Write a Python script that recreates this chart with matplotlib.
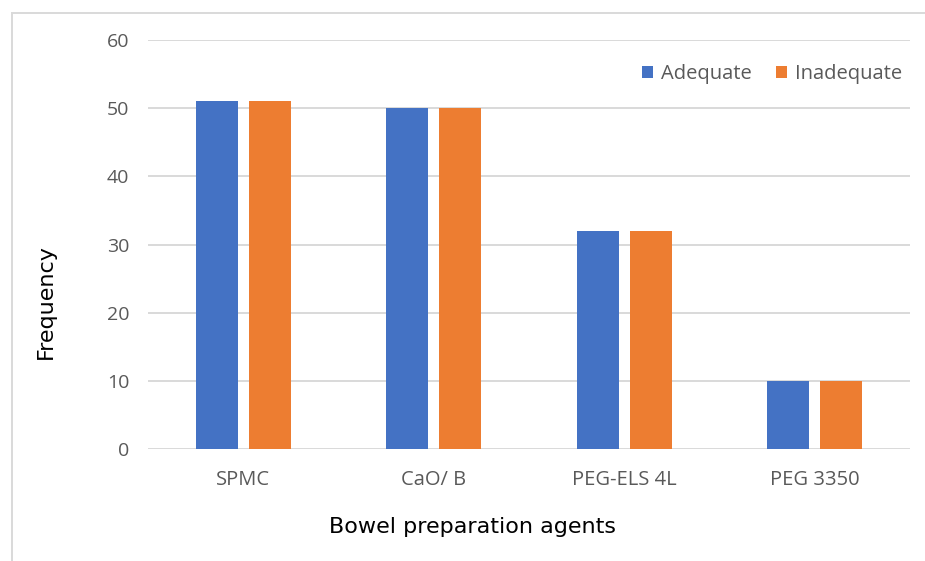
import matplotlib
matplotlib.use("Agg")
import matplotlib.pyplot as plt
import numpy as np
from matplotlib.patches import Rectangle

# Data
agents = ["SPMC", "CaO/ B", "PEG-ELS 4L", "PEG 3350"]
adequate = [51, 50, 32, 10]
inadequate = [51, 50, 32, 10]
series_names = ["Adequate", "Inadequate"]
y_ticks = [0, 10, 20, 30, 40, 50, 60]

BLUE = "#4472C4"
ORANGE = "#ED7D31"
GRID = "#D9D9D9"
TEXT_GRAY = "#595959"

tick_font = ["Open Sans", "DejaVu Sans"]
W, H = 925, 561

fig = plt.figure(figsize=(W / 100, H / 100), dpi=100)
fig.patch.set_facecolor("white")

# Chart-area frame (runs off the right and bottom edges)
fig.add_artist(Rectangle((12 / W, -0.2), 1.2, 1.2 - 13 / H, transform=fig.transFigure,
                         fill=False, edgecolor="#D9D9D9", linewidth=1.4))

left, right = 148 / W, 910 / W
top, bottom = 1 - 40 / H, 1 - 449 / H
ax = fig.add_axes([left, bottom, right - left, top - bottom])

x = np.arange(len(agents))
w = 0.22
gap = 0.058
ax.bar(x - (w + gap) / 2, adequate, width=w, color=BLUE, label=series_names[0], zorder=3)
ax.bar(x + (w + gap) / 2, inadequate, width=w, color=ORANGE, label=series_names[1], zorder=3)

ax.set_xlim(-0.5, len(agents) - 0.5)
ax.set_ylim(0, 60)
ax.set_yticks(y_ticks)
ax.set_xticks(x)
ax.set_xticklabels(agents, family=tick_font, fontsize=14.5, color=TEXT_GRAY)
ax.set_yticklabels([str(v) for v in y_ticks], family=tick_font, fontsize=14, color=TEXT_GRAY)
ax.tick_params(axis="both", length=0)
ax.tick_params(axis="x", pad=15)
ax.tick_params(axis="y", pad=13.5)

ax.grid(axis="y", color=GRID, linewidth=1.4, zorder=0)
for s in ax.spines.values():
    s.set_visible(False)

ax.set_xlabel("Bowel preparation agents", family="DejaVu Sans", fontsize=16,
              color="black", va="center", ha="center")
ax.xaxis.set_label_coords((472.5 - 148) / 762, -(527 - 449) / 409)
ax.set_ylabel("Frequency", family="DejaVu Sans", fontsize=16,
              color="black", va="center", ha="center")
ax.yaxis.set_label_coords((46 - 148) / 762, (449 - 302) / 409)

leg = ax.legend(loc="upper right", bbox_to_anchor=(1.0, 0.96), ncol=2, frameon=False,
                prop={"family": tick_font, "size": 14.5}, handlelength=0.55, handleheight=0.55,
                handletextpad=0.4, columnspacing=1.2, borderaxespad=0)
for t in leg.get_texts():
    t.set_color(TEXT_GRAY)

fig.savefig("out.png", dpi=100, facecolor="white")
